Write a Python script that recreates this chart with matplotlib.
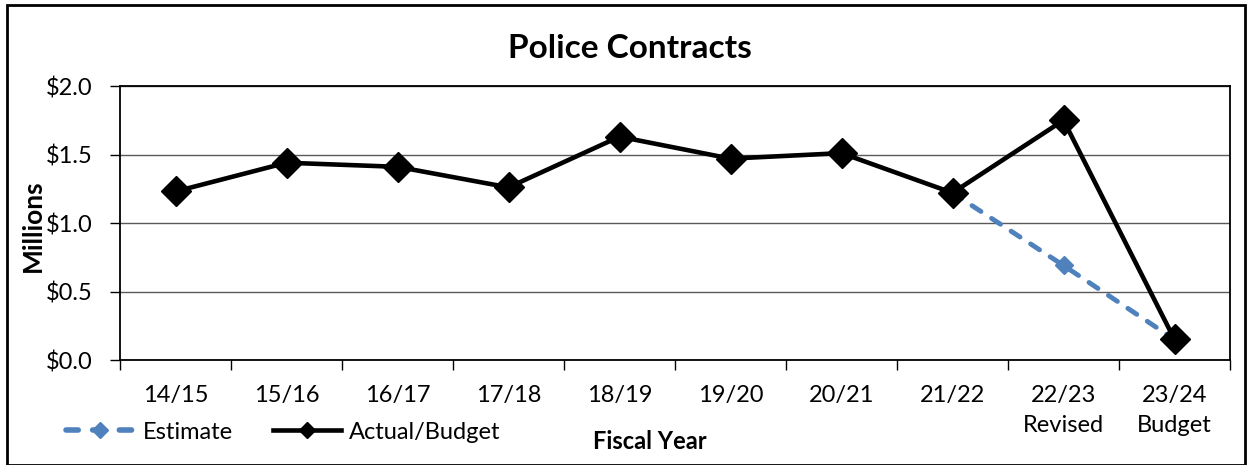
import matplotlib
matplotlib.use("Agg")
import matplotlib.pyplot as plt
from matplotlib.lines import Line2D
from matplotlib.patches import Rectangle
import numpy as np

plt.rcParams['font.family'] = ['Lato', 'DejaVu Sans']

years = ["14/15", "15/16", "16/17", "17/18", "18/19", "19/20", "20/21", "21/22",
         "22/23\nRevised", "23/24\nBudget"]
actual = [1.23, 1.44, 1.41, 1.26, 1.63, 1.47, 1.51, 1.22, 1.75, 0.15]
estimate_years = ["21/22", "22/23\nRevised", "23/24\nBudget"]
estimate = [1.22, 0.69, 0.15]

blue = "#4F81BD"
dash = (0, (2.2, 2.6))
fs = 17

fig = plt.figure(figsize=(12.52, 4.65), dpi=100)
ax = fig.add_axes([120 / 1252, 1 - 360 / 465, 1110 / 1252, 274 / 465])

x = np.arange(len(years))
ex = [years.index(y) for y in estimate_years]

ax.plot(ex, estimate, color=blue, lw=3.5, ls=dash, dash_capstyle="round",
        marker="D", ms=9, zorder=3, label="Estimate")
ax.plot(x, actual, color="black", lw=3.3, marker="D", ms=15,
        zorder=4, label="Actual/Budget")

ax.set_xlim(-0.5, len(years) - 0.5)
ax.set_ylim(0, 2.0)
ax.set_yticks([0, 0.5, 1.0, 1.5, 2.0])
ax.set_yticklabels(["$0.0", "$0.5", "$1.0", "$1.5", "$2.0"], fontsize=fs)
ax.yaxis.grid(True, color="#5a5a5a", lw=1)
ax.set_axisbelow(True)

ax.set_xticks(x)
ax.set_xticklabels(years, fontsize=fs, linespacing=1.5)
ax.set_xticks(np.arange(-0.5, len(years)), minor=True)
ax.tick_params(axis="x", which="major", length=0, pad=18)
ax.tick_params(axis="x", which="minor", length=7, width=1)
ax.tick_params(axis="y", length=7, width=1, pad=13)

for s in ax.spines.values():
    s.set_linewidth(1.3)

fig.text(33 / 1252, 1 - 226 / 465, "Millions", fontsize=19, fontweight="bold",
         rotation=90, ha="center", va="center")
fig.text(630 / 1252, 1 - 48 / 465, "Police Contracts", fontsize=24, fontweight="bold",
         ha="center", va="center")
fig.text(650 / 1252, 1 - 441 / 465, "Fiscal Year", fontsize=17, fontweight="bold",
         ha="center", va="center")

handles = [Line2D([], [], color=blue, lw=4, ls=dash, dash_capstyle="round",
                  marker="D", ms=8),
           Line2D([], [], color="black", lw=3.3, marker="D", ms=8)]
fig.legend(handles, ["Estimate", "Actual/Budget"], loc="center left",
           bbox_to_anchor=(45 / 1252, 1 - 432 / 465), ncol=2, frameon=False,
           fontsize=fs, handlelength=2.9, columnspacing=1.7, handletextpad=0.33)

fig.patches.append(Rectangle((7 / 1252, 0), 1238 / 1252, 1 - 5 / 465,
                             transform=fig.transFigure, fill=False,
                             edgecolor="black", lw=2))

fig.savefig("out.png", dpi=100)
